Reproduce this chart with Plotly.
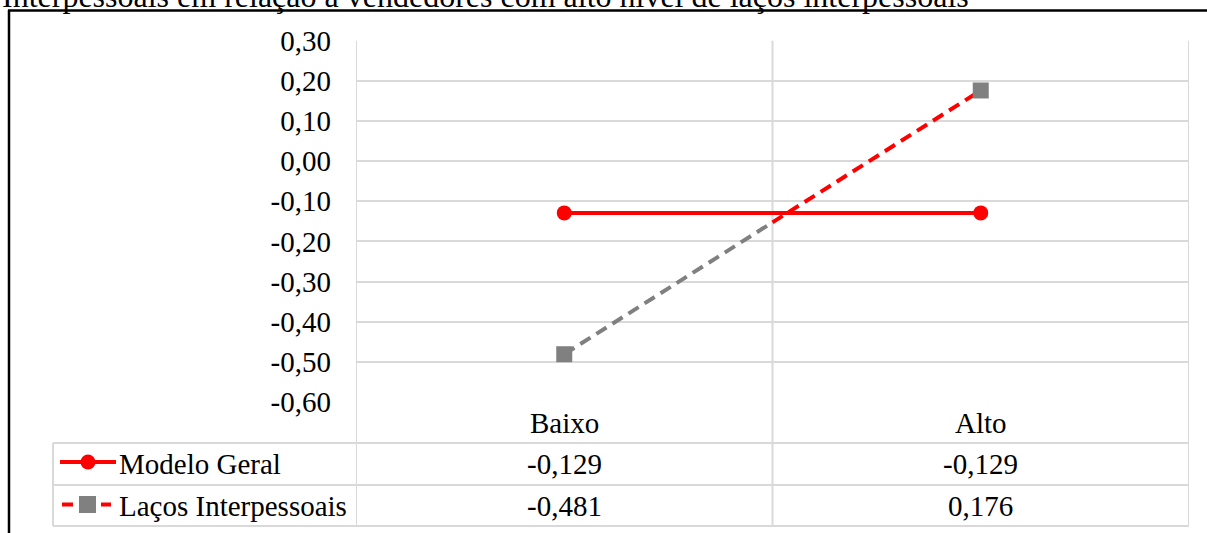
import plotly.graph_objects as go

# ---- data -------------------------------------------------------------
categories = ["Baixo", "Alto"]
series_names = ["Modelo Geral", "Laços Interpessoais"]
modelo_geral = [-0.129, -0.129]
lacos_interpessoais = [-0.481, 0.176]
y_ticks = [0.30, 0.20, 0.10, 0.00, -0.10, -0.20, -0.30, -0.40, -0.50, -0.60]
heading = "Interpessoais em relação a vendedores com alto nível de laços interpessoais"

# ---- page geometry (pixels) ------------------------------------------
W, H = 1207, 533
PLOT_L, PLOT_R = 356, 1189
PLOT_T, PLOT_B = 40.7, 402
ROW_BOTTOMS = [443, 485, 526]      # category row, series rows
TABLE_L = 53

FONT = "Liberation Serif, Times New Roman, serif"
FS = 29
GRID = "#d9d9d9"
RED = "#ff0000"
GRAY = "#808080"


def px(x):
    return x / W


def py(y):
    return 1 - y / H


def fmt(v, nd):
    return f"{v:.{nd}f}".replace(".", ",")


xs = list(range(len(categories)))

fig = go.Figure()

# solid series
fig.add_trace(go.Scatter(
    x=xs, y=modelo_geral, mode="lines+markers",
    line=dict(color=RED, width=4),
    marker=dict(symbol="circle", size=15, color=RED),
    cliponaxis=False, showlegend=False,
))

# dashed series: grey up to the category boundary, red afterwards
mid_x = (xs[0] + xs[1]) / 2
mid_y = (lacos_interpessoais[0] + lacos_interpessoais[1]) / 2
fig.add_trace(go.Scatter(
    x=[xs[0], mid_x], y=[lacos_interpessoais[0], mid_y], mode="lines",
    line=dict(color=GRAY, width=4, dash="12px,7px"), showlegend=False,
))
fig.add_trace(go.Scatter(
    x=[mid_x, xs[1]], y=[mid_y, lacos_interpessoais[1]], mode="lines",
    line=dict(color=RED, width=4, dash="12px,7px"), showlegend=False,
))
fig.add_trace(go.Scatter(
    x=xs, y=lacos_interpessoais, mode="markers",
    marker=dict(symbol="square", size=16, color=GRAY),
    cliponaxis=False, showlegend=False,
))

shapes = []
line_style = dict(color=GRID, width=2)

# column separators running through plot and data table
for xv in [-0.5, 0.5, 1.5]:
    shapes.append(dict(type="line", xref="x", yref="paper",
                       x0=xv, x1=xv, y0=py(PLOT_T), y1=py(ROW_BOTTOMS[-1]),
                       line=line_style, layer="below"))
# table row lines
for yb in ROW_BOTTOMS:
    shapes.append(dict(type="line", xref="paper", yref="paper",
                       x0=px(TABLE_L), x1=px(PLOT_R), y0=py(yb), y1=py(yb),
                       line=line_style, layer="below"))
shapes.append(dict(type="line", xref="paper", yref="paper",
                   x0=px(TABLE_L), x1=px(TABLE_L),
                   y0=py(ROW_BOTTOMS[0]), y1=py(ROW_BOTTOMS[-1]),
                   line=line_style, layer="below"))

# legend keys inside the table
r1 = (ROW_BOTTOMS[0] + ROW_BOTTOMS[1]) / 2 - 2
r2 = (ROW_BOTTOMS[1] + ROW_BOTTOMS[2]) / 2 - 1
shapes.append(dict(type="line", xref="paper", yref="paper",
                   x0=px(60), x1=px(116), y0=py(r1), y1=py(r1),
                   line=dict(color=RED, width=4)))
shapes.append(dict(type="circle", xref="paper", yref="paper",
                   x0=px(80.5), x1=px(95.5), y0=py(r1 - 7.5), y1=py(r1 + 7.5),
                   fillcolor=RED, line=dict(width=0)))
shapes.append(dict(type="line", xref="paper", yref="paper",
                   x0=px(62), x1=px(73), y0=py(r2), y1=py(r2),
                   line=dict(color=RED, width=4)))
shapes.append(dict(type="line", xref="paper", yref="paper",
                   x0=px(101), x1=px(111), y0=py(r2), y1=py(r2),
                   line=dict(color=RED, width=4)))
shapes.append(dict(type="rect", xref="paper", yref="paper",
                   x0=px(79), x1=px(96), y0=py(r2 - 8.5), y1=py(r2 + 8.5),
                   fillcolor=GRAY, line=dict(width=0)))

# outer frame (top and left edges visible)
shapes.append(dict(type="line", xref="paper", yref="paper",
                   x0=px(8), x1=1.05, y0=py(10.5), y1=py(10.5),
                   line=dict(color="black", width=2.5)))
shapes.append(dict(type="line", xref="paper", yref="paper",
                   x0=px(9), x1=px(9), y0=py(10), y1=-0.05,
                   line=dict(color="black", width=2.5)))

annotations = []
txt = dict(family=FONT, size=FS, color="black")
row_centers = [
    (PLOT_B + ROW_BOTTOMS[0]) / 2,
    (ROW_BOTTOMS[0] + ROW_BOTTOMS[1]) / 2,
    (ROW_BOTTOMS[1] + ROW_BOTTOMS[2]) / 2,
]
for xv, cat in zip(xs, categories):
    annotations.append(dict(x=xv, y=py(row_centers[0]), xref="x", yref="paper",
                            text=cat, showarrow=False, font=txt,
                            xanchor="center", yanchor="middle"))
for row, (name, vals) in enumerate(zip(series_names, [modelo_geral, lacos_interpessoais]), start=1):
    annotations.append(dict(x=px(117), y=py(row_centers[row]), xref="paper", yref="paper",
                            text=name, showarrow=False, font=txt,
                            xanchor="left", yanchor="middle"))
    for xv, v in zip(xs, vals):
        annotations.append(dict(x=xv, y=py(row_centers[row]), xref="x", yref="paper",
                                text=fmt(v, 3), showarrow=False, font=txt,
                                xanchor="center", yanchor="middle"))

annotations.append(dict(x=0, y=py(-4), xref="paper", yref="paper",
                        text=heading, showarrow=False,
                        font=dict(family=FONT, size=32, color="black"),
                        xanchor="left", yanchor="middle"))

fig.update_layout(
    width=W, height=H,
    margin=dict(l=0, r=0, t=0, b=0, autoexpand=False),
    paper_bgcolor="white", plot_bgcolor="white",
    shapes=shapes, annotations=annotations,
    xaxis=dict(domain=[px(PLOT_L), px(PLOT_R)], range=[-0.5, 1.5],
               showgrid=False, zeroline=False, showticklabels=False,
               showline=False, fixedrange=True),
    yaxis=dict(domain=[py(PLOT_B), py(PLOT_T)], range=[min(y_ticks), max(y_ticks)],
               tickvals=y_ticks, ticktext=[fmt(v, 2) for v in y_ticks],
               showgrid=True, gridcolor=GRID, gridwidth=2,
               zeroline=False, showline=False, ticks="",
               ticklabelstandoff=24,
               tickfont=txt, fixedrange=True),
)

fig.write_html("out.html")
